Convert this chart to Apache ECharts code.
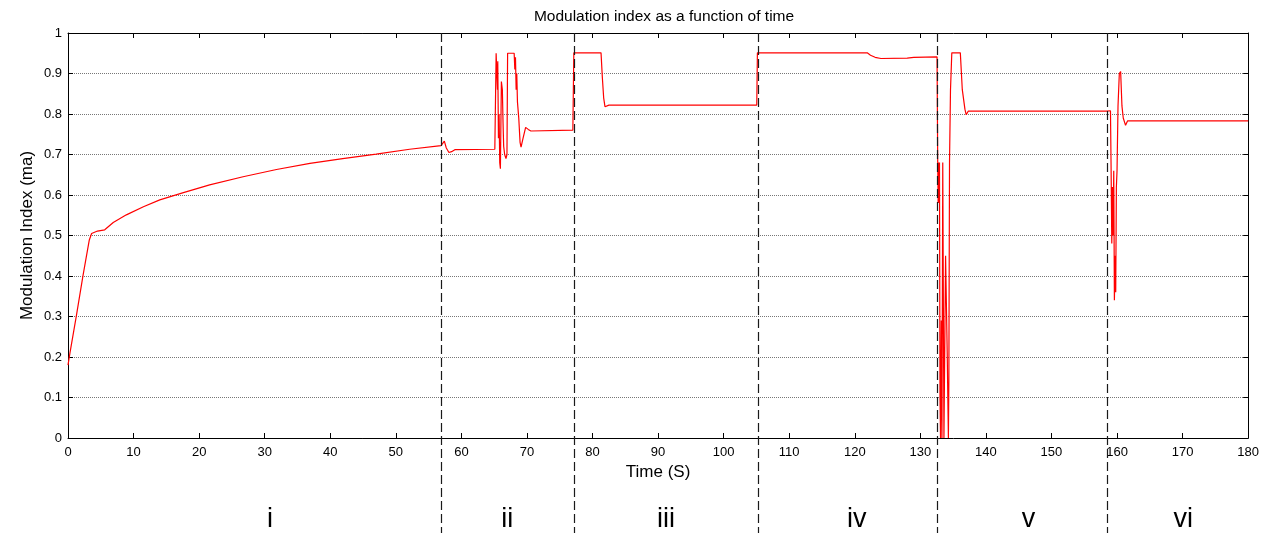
<!DOCTYPE html>
<html>
<head>
<meta charset="utf-8">
<title>Modulation index as a function of time</title>
<script src="https://cdn.jsdelivr.net/npm/echarts@6/dist/echarts.min.js"></script>
<style>
  html, body { margin: 0; padding: 0; background: #fff; }
  #chart { width: 1262px; height: 533px; }
</style>
</head>
<body>
<div id="chart"></div>
<script>
// Modulation index (ma) against time (s), one [time, ma] list per operating stage
const stageI = [[0, 0.18], [0.3, 0.21], [1.3, 0.304], [2.3, 0.402], [3.25, 0.489], [3.6, 0.505],
  [3.9, 0.509], [4.5, 0.511], [5.6, 0.514], [6.9, 0.532], [8.9, 0.551], [11.5, 0.571],
  [14.0, 0.588], [17.6, 0.606], [21.6, 0.625], [26.7, 0.645], [31.8, 0.663], [36.9, 0.678],
  [41.9, 0.690], [47.0, 0.701], [52.1, 0.713], [56.9, 0.722]];
const stageII = [[57.1, 0.722], [57.4, 0.733], [57.7, 0.716], [58.1, 0.705], [58.5, 0.707],
  [59.0, 0.712], [65.1, 0.713], [65.3, 0.95], [65.45, 0.95], [65.5, 0.86], [65.55, 0.93],
  [65.65, 0.74], [65.75, 0.80], [65.85, 0.68], [65.95, 0.665], [66.1, 0.88], [66.25, 0.86],
  [66.35, 0.78], [66.45, 0.72], [66.6, 0.70], [66.8, 0.69], [66.95, 0.70], [67.05, 0.95],
  [68.05, 0.95], [68.15, 0.91], [68.25, 0.94], [68.35, 0.86], [68.45, 0.90], [68.55, 0.83],
  [68.75, 0.79], [68.95, 0.73], [69.1, 0.718], [69.4, 0.74], [69.8, 0.767], [70.2, 0.762],
  [70.6, 0.758], [77.0, 0.76]];
const stageIII = [[77.1, 0.76], [77.15, 0.951], [81.3, 0.951], [81.5, 0.89], [81.7, 0.84],
  [81.9, 0.818], [82.2, 0.815], [82.5, 0.822], [105.05, 0.822]];
const stageIV = [[105.1, 0.822], [105.15, 0.951], [121.9, 0.951], [122.4, 0.945], [123.1, 0.94],
  [124.0, 0.937], [128.0, 0.938], [129.0, 0.94], [132.55, 0.941]];
const stageV = [[132.6, 0.94], [132.65, 0.68], [132.72, 0.58], [132.78, 0.68], [132.85, 0.58],
  [132.92, 0.68], [133.0, 0.10], [133.08, 0.0], [133.2, 0.29], [133.3, 0.0], [133.42, 0.68],
  [133.5, 0.68], [133.6, 0.0], [133.75, 0.0], [133.85, 0.45], [134.0, 0.45], [134.1, 0.21],
  [134.2, 0.21], [134.28, 0.0], [134.35, 0.14], [134.45, 0.68], [134.6, 0.86], [134.8, 0.951],
  [136.1, 0.951], [136.4, 0.86], [136.8, 0.812], [137.0, 0.798], [137.3, 0.807], [158.4, 0.807]];
const stageVI = [[158.45, 0.807], [159.0, 0.808], [159.1, 0.66], [159.2, 0.48], [159.3, 0.62],
  [159.4, 0.50], [159.5, 0.66], [159.6, 0.34], [159.7, 0.45], [159.8, 0.36], [159.9, 0.62],
  [160.0, 0.66], [160.15, 0.82], [160.35, 0.90], [160.55, 0.905], [160.75, 0.82], [160.95, 0.79],
  [161.3, 0.772], [161.6, 0.783], [180, 0.783]];

// Stage boundaries (s) and the stage names written under the axis
const stageBounds = [56.9, 77.2, 105.2, 132.6, 158.4];
const stageNames = ['i', 'ii', 'iii', 'iv', 'v', 'vi'];
const stageNameTimes = [30.8, 67.0, 91.2, 120.3, 146.5, 170.1];

const FONT = '"Liberation Sans", Arial, Helvetica, sans-serif';
const trace = [].concat(stageI, stageII, stageIII, stageIV, stageV, stageVI);

const chart = echarts.init(document.getElementById('chart'), null, { renderer: 'canvas' });

// Shared look of the four sides of the axes box: black frame, ticks pointing inwards
const boxAxis = {
  axisLine: { show: true, onZero: false, lineStyle: { color: '#000', width: 1 } },
  axisTick: { show: true, inside: true, length: 5, lineStyle: { color: '#000' } },
  splitLine: { show: false }
};

chart.setOption({
  animation: false,
  backgroundColor: '#fff',
  textStyle: { fontFamily: FONT },
  title: {
    text: 'Modulation index as a function of time',
    left: 659, textAlign: 'center', top: 4,
    textStyle: { fontSize: 15.5, fontWeight: 'normal', color: '#000', fontFamily: FONT }
  },
  grid: { left: 68, right: 12, top: 33, bottom: 95, containLabel: false },
  xAxis: [
    Object.assign({}, boxAxis, {
      type: 'value', min: 0, max: 180, interval: 10, position: 'bottom',
      axisLabel: { color: '#000', fontSize: 13, margin: 8, fontFamily: FONT },
      name: 'Time (S)', nameLocation: 'middle', nameGap: 24,
      nameTextStyle: { color: '#000', fontSize: 17, fontFamily: FONT }
    }),
    Object.assign({}, boxAxis, {
      type: 'value', min: 0, max: 180, interval: 10, position: 'top',
      axisLabel: { show: false }
    })
  ],
  yAxis: [
    Object.assign({}, boxAxis, {
      type: 'value', min: 0, max: 1, interval: 0.1, position: 'left',
      axisLabel: { color: '#000', fontSize: 13, margin: 6, fontFamily: FONT },
      splitLine: { show: true, lineStyle: { color: '#777', type: 'dotted', width: 1 } },
      name: 'Modulation Index (ma)', nameLocation: 'middle', nameGap: 32,
      nameMoveOverlap: false,
      nameTextStyle: { color: '#000', fontSize: 17, fontFamily: FONT }
    }),
    Object.assign({}, boxAxis, {
      type: 'value', min: 0, max: 1, interval: 0.1, position: 'right',
      axisLabel: { show: false }
    })
  ],
  series: [{
    type: 'line',
    data: trace,
    showSymbol: false,
    sampling: null,
    lineStyle: { color: '#ff0000', width: 1.2 },
    z: 3
  }]
});

// Dashed stage boundaries run from the top of the axes box down past the axis,
// with each stage name centred under its span.
function drawStages() {
  const top = chart.convertToPixel({ yAxisIndex: 0 }, 1);
  const bottom = chart.getHeight();
  const elements = [];
  stageBounds.forEach(function (t) {
    const x = Math.round(chart.convertToPixel({ xAxisIndex: 0 }, t)) + 0.5;
    elements.push({
      type: 'line',
      shape: { x1: x, y1: top, x2: x, y2: bottom },
      style: { stroke: '#1a1a1a', lineWidth: 1.2, lineDash: [9, 4] },
      z: 10, silent: true
    });
  });
  stageNames.forEach(function (name, i) {
    const x = chart.convertToPixel({ xAxisIndex: 0 }, stageNameTimes[i]);
    elements.push({
      type: 'text',
      x: x, y: 520,
      style: {
        text: name, fill: '#000', font: '27px ' + FONT,
        textAlign: 'center', textVerticalAlign: 'middle'
      },
      z: 10, silent: true
    });
  });
  chart.setOption({ graphic: { elements: elements } });
}
drawStages();
</script>
</body>
</html>
